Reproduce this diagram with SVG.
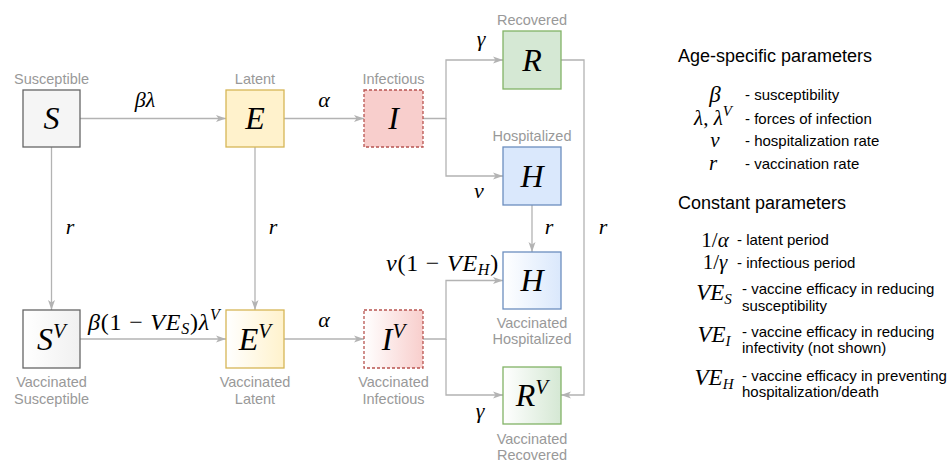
<svg xmlns="http://www.w3.org/2000/svg" width="951" height="462" viewBox="0 0 951 462">
<style>
.box{stroke-width:1.3}
.var{font-family:"Liberation Serif",serif;font-style:italic;font-size:32px;fill:#000;text-anchor:middle}
.sup{font-size:21px}
.lbl{font-family:"Liberation Sans",Arial,sans-serif;font-size:14.5px;fill:#999;text-anchor:middle}
.m{font-family:"Liberation Serif",serif;font-style:italic;font-size:22px;fill:#000}
.mw{font-size:24px;letter-spacing:0.8px}
.up{font-style:normal}
.sub{font-size:16px}
.conn{fill:none;stroke:#b3b3b3;stroke-width:1.3}
.h{font-family:"Liberation Sans",Arial,sans-serif;font-size:18px;fill:#000}
.d{font-family:"Liberation Sans",Arial,sans-serif;font-size:15px;fill:#000}
.lm{font-family:"Liberation Serif",serif;font-style:italic;font-size:23px;fill:#000;text-anchor:middle}
.lm2{font-size:21px}
.ls{font-size:15px}
</style>
<defs>
<marker id="arr" markerWidth="11" markerHeight="8" refX="10" refY="4" orient="auto" markerUnits="userSpaceOnUse">
<path d="M0,0.5 L10,4 L0,7.5 L2.5,4 Z" fill="#b3b3b3"/>
</marker>
<linearGradient id="gS" x1="0" y1="0" x2="1" y2="0"><stop offset="0" stop-color="#fff"/><stop offset="1" stop-color="#f0f0f0"/></linearGradient>
<linearGradient id="gE" x1="0" y1="0" x2="1" y2="0"><stop offset="0" stop-color="#fff"/><stop offset="1" stop-color="#fff2cc"/></linearGradient>
<linearGradient id="gI" x1="0" y1="0" x2="1" y2="0"><stop offset="0" stop-color="#fff"/><stop offset="1" stop-color="#f8cecc"/></linearGradient>
<linearGradient id="gH" x1="0" y1="0" x2="1" y2="0"><stop offset="0" stop-color="#fff"/><stop offset="1" stop-color="#dae8fc"/></linearGradient>
<linearGradient id="gR" x1="0" y1="0" x2="1" y2="0"><stop offset="0" stop-color="#fff"/><stop offset="1" stop-color="#d5e8d4"/></linearGradient>
</defs>

<g id="connectors">
<path class="conn" d="M80,118.5 H226" marker-end="url(#arr)"/>
<path class="conn" d="M284,118.5 H364" marker-end="url(#arr)"/>
<path class="conn" d="M423,118.5 H446 V60 H503" marker-end="url(#arr)"/>
<path class="conn" d="M446,118.5 V176 H503" marker-end="url(#arr)"/>
<path class="conn" d="M561,60 H584 V395 H561" marker-end="url(#arr)"/>
<path class="conn" d="M532,205 V252" marker-end="url(#arr)"/>
<path class="conn" d="M51.5,147 V310" marker-end="url(#arr)"/>
<path class="conn" d="M255,147 V310" marker-end="url(#arr)"/>
<path class="conn" d="M80,339 H226" marker-end="url(#arr)"/>
<path class="conn" d="M284,339 H364" marker-end="url(#arr)"/>
<path class="conn" d="M423,339 H446 V280.5 H503" marker-end="url(#arr)"/>
<path class="conn" d="M446,339 V395 H503" marker-end="url(#arr)"/>
<text class="m" x="145" y="107" text-anchor="middle" font-size="24">βλ</text>
<text class="m" x="324" y="107" text-anchor="middle">α</text>
<text class="m" x="481" y="46" text-anchor="middle">γ</text>
<text class="m" x="479" y="198" text-anchor="middle">ν</text>
<text class="m" x="70" y="234" text-anchor="middle">r</text>
<text class="m" x="273" y="234" text-anchor="middle">r</text>
<text class="m" x="549" y="234" text-anchor="middle">r</text>
<text class="m" x="603" y="234" text-anchor="middle">r</text>
<text class="m mw" x="88" y="330">β<tspan class="up">(1 − </tspan>VE<tspan class="sub" dy="4">S</tspan><tspan class="up" dy="-4">)</tspan>λ<tspan class="sub" dy="-10">V</tspan></text>
<text class="m" x="324" y="327" text-anchor="middle">α</text>
<text class="m mw" x="499" y="271" text-anchor="end">ν<tspan class="up">(1 − </tspan>VE<tspan class="sub" dy="4">H</tspan><tspan class="up" dy="-4">)</tspan></text>
<text class="m" x="480" y="418" text-anchor="middle">γ</text>
</g>

<g id="node-S">
<rect class="box" x="23" y="90" width="57" height="57" fill="#f5f5f5" stroke="#666"/>
<text class="var" x="51.5" y="129">S</text>
<text class="lbl" x="51.5" y="84">Susceptible</text>
</g>
<g id="node-E">
<rect class="box" x="226" y="90" width="58" height="57" fill="#fff2cc" stroke="#d6b656"/>
<text class="var" x="255" y="129">E</text>
<text class="lbl" x="255" y="84">Latent</text>
</g>
<g id="node-I">
<rect class="box" x="364" y="90" width="59" height="57" fill="#f8cecc" stroke="#b85450" stroke-dasharray="3,2"/>
<text class="var" x="393.5" y="129">I</text>
<text class="lbl" x="393.5" y="84">Infectious</text>
</g>
<g id="node-R">
<rect class="box" x="503" y="31" width="58" height="58" fill="#d5e8d4" stroke="#82b366"/>
<text class="var" x="532" y="71">R</text>
<text class="lbl" x="532" y="25">Recovered</text>
</g>
<g id="node-H">
<rect class="box" x="503" y="147" width="58" height="58" fill="#dae8fc" stroke="#6c8ebf"/>
<text class="var" x="532" y="187">H</text>
<text class="lbl" x="532" y="141">Hospitalized</text>
</g>
<g id="node-SV">
<rect class="box" x="23" y="310" width="57" height="58" fill="url(#gS)" stroke="#666"/>
<text class="var" x="51.5" y="350">S<tspan class="sup" dy="-12">V</tspan></text>
<text class="lbl" x="51.5" y="387">Vaccinated</text>
<text class="lbl" x="51.5" y="404">Susceptible</text>
</g>
<g id="node-EV">
<rect class="box" x="226" y="310" width="58" height="58" fill="url(#gE)" stroke="#d6b656"/>
<text class="var" x="255" y="350">E<tspan class="sup" dy="-12">V</tspan></text>
<text class="lbl" x="255" y="387">Vaccinated</text>
<text class="lbl" x="255" y="404">Latent</text>
</g>
<g id="node-IV">
<rect class="box" x="364" y="310" width="59" height="58" fill="url(#gI)" stroke="#b85450" stroke-dasharray="3,2"/>
<text class="var" x="393.5" y="350">I<tspan class="sup" dy="-12">V</tspan></text>
<text class="lbl" x="393.5" y="387">Vaccinated</text>
<text class="lbl" x="393.5" y="404">Infectious</text>
</g>
<g id="node-HV">
<rect class="box" x="503" y="252" width="58" height="57" fill="url(#gH)" stroke="#6c8ebf"/>
<text class="var" x="532" y="291">H</text>
<text class="lbl" x="532" y="328">Vaccinated</text>
<text class="lbl" x="532" y="344">Hospitalized</text>
</g>
<g id="node-RV">
<rect class="box" x="503" y="367" width="58" height="57" fill="url(#gR)" stroke="#82b366"/>
<text class="var" x="532" y="406">R<tspan class="sup" dy="-12">V</tspan></text>
<text class="lbl" x="532" y="444">Vaccinated</text>
<text class="lbl" x="532" y="460">Recovered</text>
</g>

<g id="legend">
<text class="h" x="678" y="62">Age-specific parameters</text>
<text class="lm" x="715" y="102">β</text>
<text class="d" x="745" y="100">- susceptibility</text>
<text class="lm lm2" x="713" y="125">λ<tspan class="up">, </tspan>λ<tspan class="ls" dy="-9">V</tspan></text>
<text class="d" x="745" y="124">- forces of infection</text>
<text class="lm lm2" x="715" y="147">ν</text>
<text class="d" x="745" y="146">- hospitalization rate</text>
<text class="lm lm2" x="713" y="170">r</text>
<text class="d" x="745" y="169">- vaccination rate</text>

<text class="h" x="678" y="209">Constant parameters</text>
<text class="lm lm2" x="715" y="247"><tspan class="up">1/</tspan>α</text>
<text class="d" x="737" y="245">- latent period</text>
<text class="lm lm2" x="715" y="269"><tspan class="up">1/</tspan>γ</text>
<text class="d" x="737" y="268">- infectious period</text>
<text class="lm" x="714" y="300">VE<tspan class="ls" dy="4">S</tspan></text>
<text class="d" x="742" y="294">- vaccine efficacy in reducing</text>
<text class="d" x="742" y="311">susceptibility</text>
<text class="lm" x="714" y="342">VE<tspan class="ls" dy="4">I</tspan></text>
<text class="d" x="742" y="337">- vaccine efficacy in reducing</text>
<text class="d" x="742" y="353">infectivity (not shown)</text>
<text class="lm" x="714" y="385">VE<tspan class="ls" dy="4">H</tspan></text>
<text class="d" x="742" y="381">- vaccine efficacy in preventing</text>
<text class="d" x="742" y="397">hospitalization/death</text>
</g>
</svg>
